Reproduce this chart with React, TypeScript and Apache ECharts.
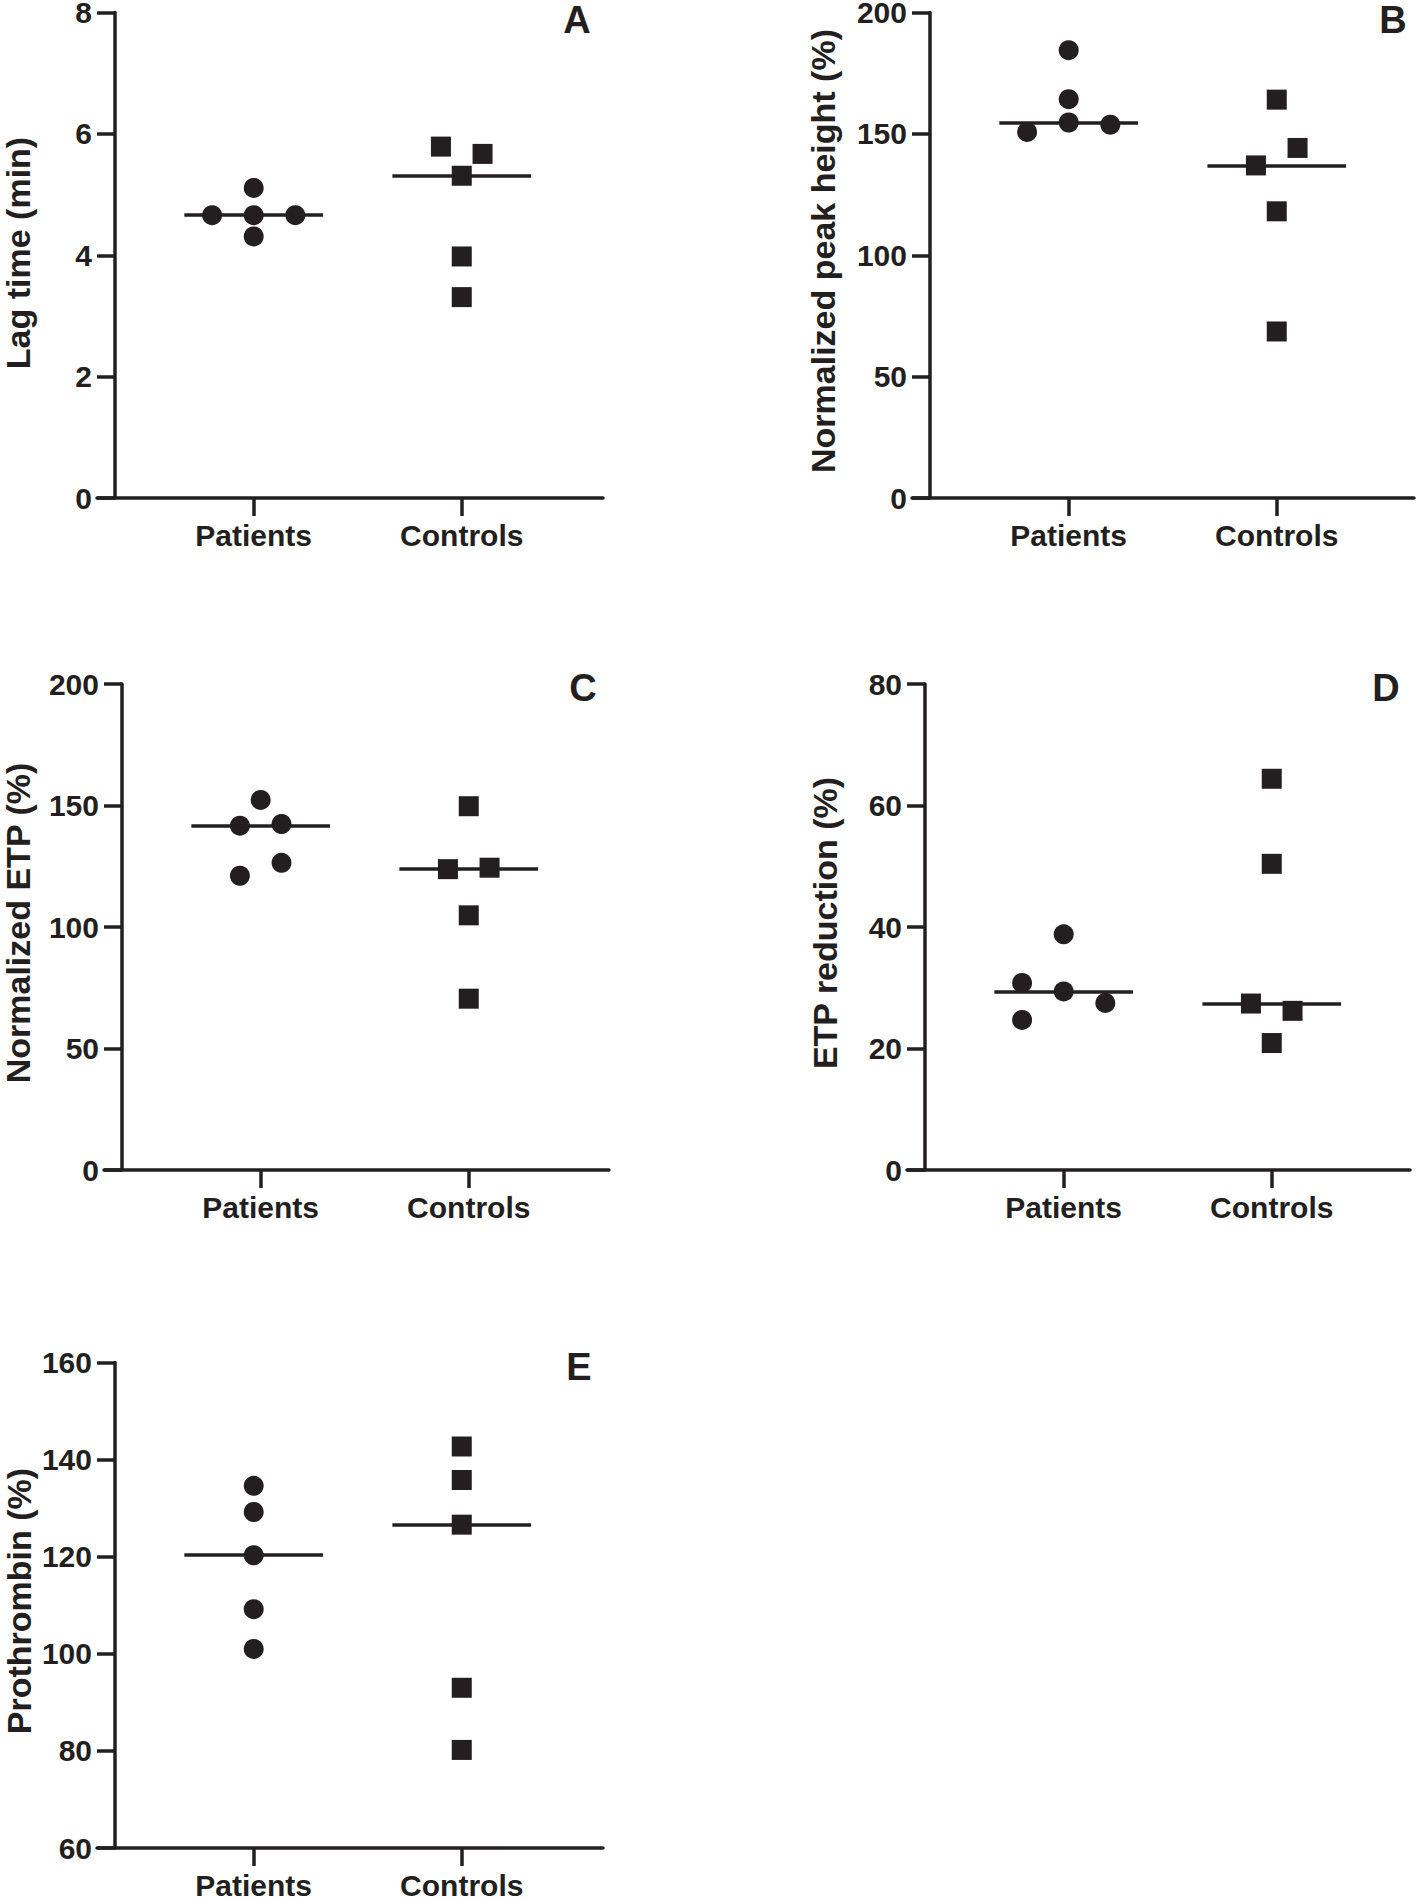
import React, { useEffect, useRef } from "react";
import * as echarts from "echarts";

const FONT = '"Liberation Sans", Arial, Helvetica, sans-serif';
const INK = "#231f20";

// groups and their positions on the x axis
const groupNames = ["Patients", "Controls"];
const groupX = [1, 2.5];

// Panel A – Lag time (min)
const lagPatients = [4.66, 5.11, 4.66, 4.66, 4.31];
const lagPatientsSpread = [-0.3, 0, 0, 0.3, 0];
const lagControls = [5.79, 5.67, 5.31, 3.98, 3.31];
const lagControlsSpread = [-0.15, 0.15, 0, 0, 0];
const lagAxis = [0, 8, 2];

// Panel B – Normalized peak height (%)
const peakPatients = [150.8, 184.5, 164.3, 154.7, 153.8];
const peakPatientsSpread = [-0.3, 0, 0, 0, 0.3];
const peakControls = [164.1, 144.2, 137.0, 118.1, 68.6];
const peakControlsSpread = [0, 0.15, -0.15, 0, 0];
const peakAxis = [0, 200, 50];

// Panel C – Normalized ETP (%)
const etpPatients = [152.3, 141.7, 142.4, 126.4, 121.1];
const etpPatientsSpread = [0, -0.15, 0.15, 0.15, -0.15];
const etpControls = [149.7, 123.8, 124.4, 104.8, 70.5];
const etpControlsSpread = [0, -0.15, 0.15, 0, 0];
const etpAxis = [0, 200, 50];

// Panel D – ETP reduction (%)
const redPatients = [30.8, 38.8, 29.4, 27.5, 24.7];
const redPatientsSpread = [-0.3, 0, 0, 0.3, -0.3];
const redControls = [64.4, 50.4, 27.4, 26.2, 20.9];
const redControlsSpread = [0, 0, -0.15, 0.15, 0];
const redAxis = [0, 80, 20];

// Panel E – Prothrombin (%)
const proPatients = [134.6, 129.2, 120.3, 109.2, 101.0];
const proPatientsSpread = [0, 0, 0, 0, 0];
const proControls = [142.7, 135.8, 126.6, 93.0, 80.2];
const proControlsSpread = [0, 0, 0, 0, 0];
const proAxis = [60, 160, 20];

const panelLetters = ["A", "B", "C", "D", "E"];
const panelTitles = [
  "Lag time (min)",
  "Normalized peak height (%)",
  "Normalized ETP (%)",
  "ETP reduction (%)",
  "Prothrombin (%)",
];

const panelData = [
  { p: lagPatients, ps: lagPatientsSpread, c: lagControls, cs: lagControlsSpread, axis: lagAxis },
  { p: peakPatients, ps: peakPatientsSpread, c: peakControls, cs: peakControlsSpread, axis: peakAxis },
  { p: etpPatients, ps: etpPatientsSpread, c: etpControls, cs: etpControlsSpread, axis: etpAxis },
  { p: redPatients, ps: redPatientsSpread, c: redControls, cs: redControlsSpread, axis: redAxis },
  { p: proPatients, ps: proPatientsSpread, c: proControls, cs: proControlsSpread, axis: proAxis },
];

// layout (pixels)
const UNIT = 138.7;
const TICK = 18;
const LW = 3.5;
const layouts = [
  { axisX: 115, rightX: 603, top: 12.5, bottom: 498, tx: 18, ty: 253, lx: 577, ly: 20 },
  { axisX: 930, rightX: 1414, top: 12.5, bottom: 498, tx: 823, ty: 251, lx: 1393, ly: 20 },
  { axisX: 122, rightX: 609, top: 684, bottom: 1170, tx: 18, ty: 923, lx: 583, ly: 688 },
  { axisX: 925, rightX: 1410, top: 684, bottom: 1170, tx: 825, ty: 923, lx: 1386, ly: 688 },
  { axisX: 115, rightX: 603, top: 1362.5, bottom: 1848, tx: 18.5, ty: 1601, lx: 579, ly: 1367 },
];

const median = (a: number[]) => {
  const s = [...a].sort((x, y) => x - y);
  return s[(s.length - 1) / 2];
};

function buildOption() {
  const grid: any[] = [];
  const xAxis: any[] = [];
  const yAxis: any[] = [];
  const series: any[] = [];
  const graphic: any[] = [];

  panelData.forEach((d, i) => {
    const L = layouts[i];
    grid.push({
      left: L.axisX - TICK,
      top: L.top,
      width: L.rightX - L.axisX + TICK,
      height: L.bottom - L.top,
      containLabel: false,
      outerBoundsMode: "none",
    });
    xAxis.push({
      gridIndex: i,
      type: "value",
      min: -TICK / UNIT,
      max: (L.rightX - L.axisX) / UNIT,
      splitLine: { show: false },
      axisLine: { show: true, onZero: true, lineStyle: { color: INK, width: LW } },
      axisTick: {
        show: true,
        customValues: groupX,
        length: TICK,
        lineStyle: { color: INK, width: LW },
      },
      axisLabel: {
        show: true,
        customValues: groupX,
        formatter: (v: number) => {
          const k = groupX.findIndex((g) => Math.abs(g - v) < 1e-6);
          return k >= 0 ? groupNames[k] : "";
        },
        color: INK,
        fontFamily: FONT,
        fontWeight: "bold",
        fontSize: 30,
        margin: 22,
      },
    });
    yAxis.push({
      gridIndex: i,
      type: "value",
      min: d.axis[0],
      max: d.axis[1],
      interval: d.axis[2],
      splitLine: { show: false },
      axisLine: { show: true, onZero: true, lineStyle: { color: INK, width: LW } },
      axisTick: { show: true, length: TICK, lineStyle: { color: INK, width: LW } },
      axisLabel: {
        color: INK,
        fontFamily: FONT,
        fontWeight: "bold",
        fontSize: 30,
        lineHeight: 24,
        margin: 5,
      },
    });

    const mk = (vals: number[], pos: number) => ({
      symbol: "none",
      silent: true,
      label: { show: false },
      lineStyle: { color: INK, width: LW, type: "solid" },
      data: [[{ coord: [pos - 0.5, median(vals)] }, { coord: [pos + 0.5, median(vals)] }]],
    });

    series.push({
      type: "scatter",
      name: groupNames[0],
      xAxisIndex: i,
      yAxisIndex: i,
      symbol: "circle",
      symbolSize: 20,
      itemStyle: { color: INK, opacity: 1 },
      data: d.p.map((v, k) => [groupX[0] + d.ps[k], v]),
      markLine: mk(d.p, groupX[0]),
    });
    series.push({
      type: "scatter",
      name: groupNames[1],
      xAxisIndex: i,
      yAxisIndex: i,
      symbol: "rect",
      symbolSize: 20,
      itemStyle: { color: INK, opacity: 1 },
      data: d.c.map((v, k) => [groupX[1] + d.cs[k], v]),
      markLine: mk(d.c, groupX[1]),
    });

    // y-axis title
    graphic.push({
      type: "text",
      x: L.tx,
      y: L.ty,
      rotation: Math.PI / 2,
      style: {
        text: panelTitles[i],
        fill: INK,
        fontFamily: FONT,
        fontWeight: "bold",
        fontSize: 34,
        lineHeight: 34,
        align: "center",
        verticalAlign: "middle",
      },
    });

    // panel letter
    graphic.push({
      type: "text",
      x: L.lx,
      y: L.ly,
      style: {
        text: panelLetters[i],
        fill: INK,
        fontFamily: FONT,
        fontWeight: "bold",
        fontSize: 38,
        lineHeight: 38,
        align: "center",
        verticalAlign: "middle",
      },
    });
  });

  return {
    animation: false,
    backgroundColor: "#ffffff",
    grid,
    xAxis,
    yAxis,
    series,
    graphic,
  };
}

export default function App() {
  const ref = useRef<HTMLDivElement>(null);
  useEffect(() => {
    document.body.style.margin = "0";
    if (!ref.current) return;
    const chart = echarts.init(ref.current, null, { renderer: "svg" });
    chart.setOption(buildOption() as any);
    return () => chart.dispose();
  }, []);
  return (
    <div
      ref={ref}
      style={{ position: "absolute", left: 0, top: 0, width: 1418, height: 1899, background: "#fff" }}
    />
  );
}
